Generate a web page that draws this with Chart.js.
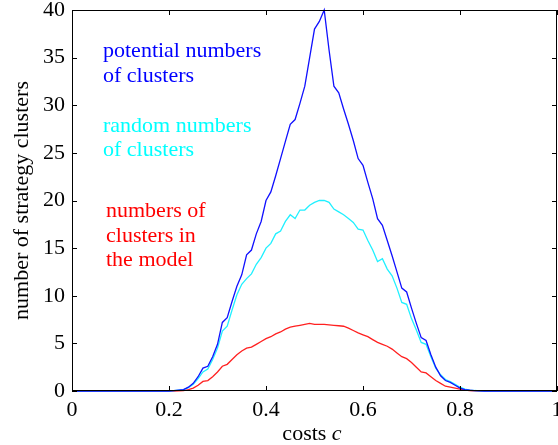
<!DOCTYPE html>
<html>
<head>
<meta charset="utf-8">
<script src="https://cdn.jsdelivr.net/npm/chart.js@4.4.0/dist/chart.umd.min.js"></script>
<style>
  html, body { margin: 0; padding: 0; background: #fff; }
  #wrap { width: 558px; height: 445px; }
</style>
</head>
<body>
<div id="wrap"><canvas id="chart" width="558" height="445"></canvas></div>
<script>
// costs c (only the part where something happens, plus the ends)
const costs = [0, 0.20, 0.21, 0.22, 0.23, 0.24, 0.25, 0.26, 0.27, 0.28, 0.29,
  0.30, 0.31, 0.32, 0.33, 0.34, 0.35, 0.36, 0.37, 0.38, 0.39,
  0.40, 0.41, 0.42, 0.43, 0.44, 0.45, 0.46, 0.47, 0.48, 0.49,
  0.50, 0.51, 0.52, 0.53, 0.54, 0.55, 0.56, 0.57, 0.58, 0.59,
  0.60, 0.61, 0.62, 0.63, 0.64, 0.65, 0.66, 0.67, 0.68, 0.69,
  0.70, 0.71, 0.72, 0.73, 0.74, 0.75, 0.76, 0.77, 0.78, 0.79,
  0.80, 0.81, 0.82, 0.83, 0.84, 0.85, 1];

const potential = [0, 0, 0.05, 0.1, 0.15, 0.4, 0.8, 1.5, 2.4, 2.6, 3.6,
  4.9, 7.2, 7.7, 9.4, 11.0, 12.2, 14.3, 14.8, 16.5, 17.8,
  20.0, 20.9, 22.6, 24.4, 26.2, 28.0, 28.5, 30.2, 32.0, 35.0,
  38.0, 38.8, 40.0, 35.8, 32.0, 31.3, 29.6, 28.0, 26.3, 24.4,
  23.7, 21.9, 20.2, 18.1, 17.4, 15.8, 14.2, 12.5, 10.8, 10.4,
  8.7, 7.1, 5.6, 5.3, 3.8, 2.5, 1.6, 1.1, 0.9, 0.6,
  0.3, 0.15, 0.08, 0.04, 0.02, 0, 0];

const random = [0, 0, 0.05, 0.1, 0.15, 0.35, 0.7, 1.3, 2.0, 2.3, 3.3,
  4.5, 6.3, 6.8, 8.5, 10.1, 11.2, 11.8, 12.3, 13.3, 14.0,
  15.0, 15.5, 16.5, 16.8, 17.8, 18.5, 18.1, 19.0, 19.0, 19.5,
  19.8, 20.0, 20.0, 19.8, 19.1, 18.8, 18.5, 18.1, 17.7, 17.0,
  16.9, 15.8, 14.8, 13.6, 13.9, 12.8, 12.1, 10.8, 9.3, 9.1,
  7.6, 6.4, 5.1, 4.9, 3.6, 2.4, 1.7, 1.2, 1.0, 0.7,
  0.4, 0.2, 0.1, 0.05, 0.02, 0, 0];

const model = [0, 0, 0, 0.02, 0.05, 0.15, 0.3, 0.6, 1.0, 1.1, 1.5,
  2.0, 2.6, 2.8, 3.3, 3.8, 4.2, 4.5, 4.6, 4.9, 5.2,
  5.5, 5.7, 6.0, 6.2, 6.5, 6.7, 6.8, 6.9, 7.0, 7.1,
  7.0, 7.0, 7.0, 6.95, 6.9, 6.85, 6.8, 6.6, 6.35, 6.1,
  5.9, 5.7, 5.4, 5.1, 4.9, 4.7, 4.4, 4.0, 3.6, 3.4,
  3.0, 2.5, 2.0, 1.9, 1.5, 1.1, 0.8, 0.5, 0.4, 0.3,
  0.2, 0.1, 0.05, 0.02, 0, 0, 0];

const xTicks = [0, 0.2, 0.4, 0.6, 0.8, 1];
const yTicks = [0, 5, 10, 15, 20, 25, 30, 35, 40];

const serif = '"Liberation Serif", "DejaVu Serif", serif';

function toPoints(ys) {
  return costs.map(function(c, i) { return { x: c, y: ys[i] }; });
}

// frame, inward ticks, text labels inside the plot, x title with italic c
const framePlugin = {
  id: 'frame',
  afterDraw: function(chart) {
    const ctx = chart.ctx;
    const a = chart.chartArea;
    const xs = chart.scales.x;
    const ys = chart.scales.y;
    ctx.save();
    ctx.strokeStyle = '#000';
    ctx.lineWidth = 1;
    ctx.strokeRect(a.left + 0.5, a.top + 0.5, a.right - a.left - 1, a.bottom - a.top - 1);
    ctx.beginPath();
    xTicks.forEach(function(v) {
      const px = Math.round(xs.getPixelForValue(v)) + 0.5;
      ctx.moveTo(px, a.bottom); ctx.lineTo(px, a.bottom - 5);
      ctx.moveTo(px, a.top); ctx.lineTo(px, a.top + 5);
    });
    yTicks.forEach(function(v) {
      const py = Math.round(ys.getPixelForValue(v)) + 0.5;
      ctx.moveTo(a.left, py); ctx.lineTo(a.left + 5, py);
      ctx.moveTo(a.right, py); ctx.lineTo(a.right - 5, py);
    });
    ctx.stroke();

    // annotations
    ctx.font = '22px ' + serif;
    ctx.textAlign = 'left';
    ctx.textBaseline = 'alphabetic';
    ctx.fillStyle = '#0000ff';
    ctx.fillText('potential numbers', 103, 57);
    ctx.fillText('of clusters', 103, 82);
    ctx.fillStyle = '#00ffff';
    ctx.fillText('random numbers', 103, 132);
    ctx.fillText('of clusters', 103, 156);
    ctx.fillStyle = '#ff0000';
    ctx.fillText('numbers of', 106, 217);
    ctx.fillText('clusters in', 106, 242);
    ctx.fillText('the model', 106, 266);

    // x axis title
    ctx.fillStyle = '#000';
    ctx.font = '22px ' + serif;
    const part1 = 'costs ';
    const w1 = ctx.measureText(part1).width;
    ctx.font = 'italic 22px ' + serif;
    const w2 = ctx.measureText('c').width;
    const x0 = 312 - (w1 + w2) / 2;
    ctx.font = '22px ' + serif;
    ctx.fillText(part1, x0, 440);
    ctx.font = 'italic 22px ' + serif;
    ctx.fillText('c', x0 + w1, 440);
    ctx.restore();
  }
};

const ctx = document.getElementById('chart').getContext('2d');
const chart = new Chart(ctx, {
  type: 'line',
  data: {
    datasets: [{
      label: 'potential numbers of clusters',
      data: toPoints(potential),
      borderColor: '#1010ff',
      borderWidth: 1.3,
      pointRadius: 0,
      tension: 0,
      clip: 3
    }, {
      label: 'random numbers of clusters',
      data: toPoints(random),
      borderColor: '#20f0ff',
      borderWidth: 1.3,
      pointRadius: 0,
      tension: 0,
      clip: 3
    }, {
      label: 'numbers of clusters in the model',
      data: toPoints(model),
      borderColor: '#ff2020',
      borderWidth: 1.3,
      pointRadius: 0,
      tension: 0,
      clip: 3
    }]
  },
  options: {
    responsive: false,
    animation: false,
    layout: { padding: { top: 10, right: 1, left: 0, bottom: 0 } },
    plugins: {
      legend: { display: false },
      tooltip: { enabled: false }
    },
    scales: {
      x: {
        type: 'linear',
        min: 0,
        max: 1,
        afterFit: function(scale) {
          scale.height = 54;
          scale.paddingLeft = 0;
          scale.paddingRight = 0;
        },
        afterBuildTicks: function(scale) {
          scale.ticks = xTicks.map(function(v) { return { value: v }; });
        },
        grid: { display: false, drawTicks: false },
        border: { display: false },
        ticks: {
          padding: 6,
          color: '#000',
          maxRotation: 0,
          autoSkip: false,
          font: { family: serif, size: 22 },
          callback: function(v) { return (v === 0 || v === 1) ? String(v) : v.toFixed(1); }
        }
      },
      y: {
        min: 0,
        max: 40,
        afterFit: function(scale) {
          scale.width = 72;
          scale.paddingTop = 0;
          scale.paddingBottom = 0;
        },
        afterBuildTicks: function(scale) {
          scale.ticks = yTicks.map(function(v) { return { value: v }; });
        },
        grid: { display: false, drawTicks: false },
        border: { display: false },
        ticks: {
          padding: 7,
          color: '#000',
          font: { family: serif, size: 22 }
        },
        title: {
          display: true,
          text: 'number of strategy clusters',
          color: '#000',
          font: { family: serif, size: 22 },
          padding: { top: 9, bottom: 0 }
        }
      }
    }
  },
  plugins: [framePlugin]
});
</script>
</body>
</html>
